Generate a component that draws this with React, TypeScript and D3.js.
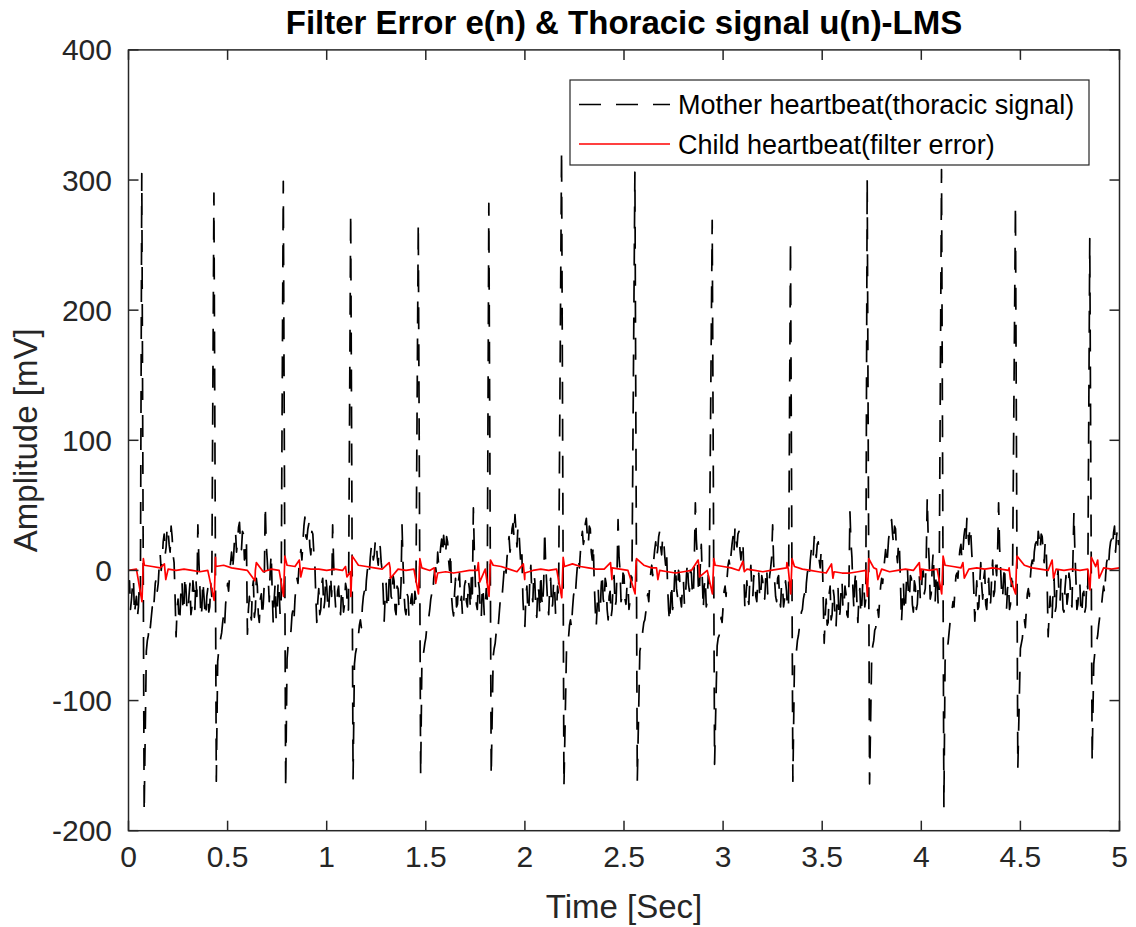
import React from 'react';
import * as d3 from 'd3';

// ---------- tick labels ----------
const xTicks = [0, 0.5, 1, 1.5, 2, 2.5, 3, 3.5, 4, 4.5, 5];
const xTickLabels = ['0', '0.5', '1', '1.5', '2', '2.5', '3', '3.5', '4', '4.5', '5'];
const yTicks = [-200, -100, 0, 100, 200, 300, 400];
const yTickLabels = ['-200', '-100', '0', '100', '200', '300', '400'];

// ---------- mother (thoracic) beats: R-peak time, peak, following trough ----------
const beatTimes = [0.067, 0.431, 0.781, 1.121, 1.462, 1.818, 2.185, 2.555, 2.945, 3.34, 3.727, 4.102, 4.475, 4.85];
const beatPeaks = [305, 290, 299, 275, 267, 282, 323, 306, 269, 254, 301, 308, 281, 255];
const beatTroughs = [-186, -162, -168, -160, -158, -158, -166, -162, -149, -162, -164, -182, -152, -147];

// ---------- thoracic signal between beats, one value every 0.01 s (null = inside a beat) ----------
const thoracic: (number | null)[] = [
  -15, -30, -12, -34, -20, -28, -18, null, null, -62,
  -50, -44, -28, -22, -6, -10, 12, 8, 28, 18,
  30, 14, 26, 6, -51, -22, -34, -8, -26, -14,
  -32, -10, -28, -16, -6, 35, -12, -30, -18, -36,
  -14, -28, -20, null, null, -70, -58, -48, -34, -26,
  -10, -4, 14, 10, 30, 22, 37, 16, 28, 11,
  -49, -20, -38, -8, -30, -12, -40, -18, -26, 50,
  8, -24, 13, -40, -10, -32, -16, -28, null, null,
  -68, -56, -46, -30, -22, -6, 2, 16, 22, 41,
  24, 36, 12, 28, 6, -40, -14, -30, -6, -24,
  -12, -32, -4, 35, -16, -30, -12, -34, -18, -26,
  -14, -30, null, null, -72, -60, -50, -38, -28, -16,
  -8, 4, 10, 20, 12, 24, 4, 18, 0, -39,
  -10, -28, 0, -22, -8, -34, -14, -26, 35, -17,
  -34, -20, -35, -18, -30, -22, null, null, -74, -62,
  -52, -40, -30, -18, -6, 2, 14, 8, 24, 27,
  12, 22, 0, -20, -35, -6, -26, -2, -20, -30,
  -8, -28, -14, -4, 48, -10, -30, -14, -36, -18,
  -28, -22, null, null, -66, -56, -42, -34, -18, -10,
  6, 10, 26, 20, 36, 43, 18, 30, 3, -22,
  -43, -12, -30, 4, -24, -8, -36, -16, -2, -28,
  31, -10, -34, -6, -26, -14, -30, -20, null, null,
  null, -60, -52, -38, -30, -14, -6, 10, 14, 30,
  24, 40, 20, 32, 8, -10, -43, -14, -32, -2,
  -26, -10, -38, -16, -30, -4, -24, 39, 0, -20,
  -4, -26, -10, -24, -8, null, null, null, -62, -54,
  -40, -32, -18, -10, 4, 8, 22, 16, 30, 12,
  24, 4, -12, -40, -10, -26, 4, -20, -4, -28,
  -8, -22, 6, -16, -2, -20, 52, 10, -18, 20,
  -30, -6, -24, -10, null, null, null, -58, -50, -36,
  -28, -12, -6, 8, 12, 26, 33, 18, 30, 8,
  22, -30, -8, -26, 4, -20, -6, -24, -2, -18,
  -8, -22, 2, -14, 2, 35, -8, -24, -4, -28,
  -12, -22, -16, -26, null, null, -72, -62, -50, -40,
  -30, -18, -10, 2, 8, 20, 26, 10, 22, 2,
  14, -56, -22, -40, -12, -34, -20, -43, -14, -32,
  -8, -28, -18, -36, 45, 10, -30, 0, -40, -14,
  -26, -10, -22, null, null, -64, -54, -44, -30, -22,
  -6, 0, 16, 12, 30, 39, 20, 32, 6, 16,
  -40, -10, -28, 2, -22, -6, -32, -12, -26, -4,
  -20, 0, -14, 56, 6, -18, 14, -24, -6, -20,
  null, null, -70, -60, -48, -38, -24, -14, -2, 8,
  20, 14, 32, 40, 20, 28, 4, -39, -8, -28,
  6, -22, 0, -30, -6, -24, 8, -16, -4, 52,
  2, -22, 4, -30, -10, -26, -12, null, null, null,
  -60, -52, -38, -30, -14, -6, 8, 14, 22, 30,
  16, 26, 6, 18, -51, -20, -36, -6, -28, 0,
  -24, -10, -32, -4, -20, -8, -28, 45, -6, -26,
  -10, -34, -16, -28, -14, null, null, -72, -60, -50,
  -36, -26, -12, -4, 10, 16, 24, 29, 14, 32,
  22,
];

// ---------- thoracic signal half-way samples, at i*0.01 + 0.005 s ----------
const thoracicMid: (number | null)[] = [
  -8, -22, -6, -26, -36, -10, null, null, null, -54,
  -40, -36, -32, -10, -16, 4, 0, 22, 12, 34,
  20, 34, 12, -20, -30, -40, -14, -32, -4, -30,
  -20, -34, -8, -30, -20, 8, -36, -8, -30, -20,
  -32, -10, null, null, null, -62, -52, -40, -42, -18,
  -16, 6, 0, 24, 14, 33, 22, 30, 8, 24,
  -30, -34, -14, -36, -6, -34, -22, -36, -10, 20,
  -6, 0, -16, -22, -38, -8, -34, null, null, null,
  -58, -52, -34, -38, -12, -10, 10, 8, 34, 26,
  32, 18, 30, 14, -20, -24, -34, -10, -30, -4,
  -26, -14, -20, 6, -28, -16, -26, -14, -32, -10,
  -32, null, null, null, -64, -56, -42, -44, -20, -22,
  0, -2, 18, 8, 22, 10, 20, 6, -16, -20,
  -30, -6, -20, -4, -30, -12, -30, -10, 6, -30,
  -18, -36, -22, -32, -16, null, null, null, -66, -56,
  -44, -36, -22, -20, 0, -4, 4, 18, 12, 18,
  26, 8, 14, -30, -18, -28, -8, -24, -34, -12,
  -24, -8, -30, -18, 14, -26, -8, -32, -12, -34,
  -14, null, null, null, -60, -48, -44, -24, -20, 0,
  -2, 20, 14, 32, 26, 30, 34, 16, 12, -38,
  -20, -32, -6, -18, -2, -30, -12, -34, -22, -8,
  4, -26, -14, -30, -8, -34, -12, null, null, null,
  null, -54, -42, -44, -20, -18, 4, 2, 24, 20,
  36, 26, 34, 14, 20, -30, -26, -34, -12, -22,
  -6, -30, -20, -36, -10, -28, 0, 10, -24, -2,
  -22, -12, -30, -4, null, null, null, null, -58, -46,
  -38, -22, -24, -2, -4, 16, 10, 26, 18, 26,
  12, 14, -30, -24, -30, -6, -14, 0, -22, -12,
  -26, -4, -10, 0, -18, 10, 24, -12, 4, -6,
  -12, -28, -4, null, null, null, null, -52, -44, -40,
  -16, -20, 4, 2, 20, 14, 24, 28, 16, 20,
  -4, -20, -22, -6, -14, -4, -20, -8, -22, -4,
  -20, -6, -18, -4, 10, 6, -20, -6, -22, -10,
  -28, -8, -30, null, null, null, -64, -54, -44, -32,
  -22, -24, -2, -4, 16, 12, 16, 20, 8, 16,
  -20, -36, -42, -18, -38, -14, -36, -24, -38, -16,
  -30, -12, -34, -10, 22, -14, -8, -24, -20, -34,
  -8, -28, null, null, null, -58, -46, -36, -36, -12,
  -10, 8, 4, 24, 36, 28, 34, 14, 22, -10,
  -24, -32, -8, -18, -4, -26, -8, -30, -10, -22,
  -2, -18, 10, 24, -22, 2, -8, -2, -26, null,
  null, null, -62, -56, -40, -30, -28, -4, -6, 16,
  8, 26, 22, 30, 34, 12, -16, -22, -30, -10,
  -12, -6, -26, -14, -28, -6, -20, 4, 14, 18,
  -16, -6, -20, -14, -30, -6, null, null, null, null,
  -56, -42, -44, -18, -20, 4, 0, 20, 14, 24,
  28, 14, 22, -10, -34, -38, -14, -32, -8, -20,
  -6, -30, -14, -26, -2, -24, 8, 14, -30, -12,
  -30, -18, -32, -8, null, null, null, -64, -54, -42,
  -34, -18, -18, 6, 4, 22, 18, 34, 26, 20,
];

// ---------- filter error (child) baseline, one value every 0.04 s ----------
const redBase = [
  0, 1, 4, 3, 2, 1, 0, 1, 0, -1, 0, 3, 4, 2, 1, 0, 0, -1, 1, 0, 4, 3, 2, 1, 1,
  0, 1, 0, -1, 4, 3, 2, 1, 2, 1, 0, 1, 2, 0, -2, -1, -2, -1, 0, 0, 1, 4, 3, 1, -1,
  -2, 0, 1, 0, 1, 3, 5, 3, 2, 1, 1, 2, 1, 0, 3, 4, 2, 0, -1, -2, -1, 0, 1, 0, 4,
  3, 2, 0, 1, 0, -1, 0, 1, 2, 3, 1, 0, -1, -2, -1, -2, -2, -1, 0, 2, 1, -1, 0, 1, 0,
  1, 0, 1, 4, 3, 2, 1, 2, 1, 2, 1, 0, 3, 4, 2, 1, 0, 1, 0, 1, 0, 1, 3, 2, 1,
  2,
];
// residual spike of the filter error at every mother beat (down, then up)
const redBeatDown = [-24, -23, -20, -20, -18, -20, -21, -18, -18, -18, -20, -18, -18, -15];
const redBeatUp = [9, 10, 11, 11, 9, 8, 10, 9, 9, 9, 9, 11, 11, 10];
// small child-beat spikes in the filter error
const childTimes = [0.181, 0.638, 0.862, 1.095, 1.315, 1.543, 1.765, 1.992, 2.432, 2.664, 2.874, 3.1, 3.322, 3.547, 3.774, 3.99, 4.21, 4.443, 4.66, 4.89];
const childFirst = [5, -8, 8, 3, 6, 2, 6, 5, 6, 2, 8, 7, 6, 5, 1, 6, 6, 2, 8, 8];
const childSecond = [-7, 6, -5, -5, -6, -10, -9, -7, -7, -7, -5, -1, 1, -6, -7, -7, -6, -7, -6, -6];

const legendLabels = ['Mother heartbeat(thoracic signal)', 'Child heartbeat(filter error)'];

const W = 1136;
const H = 927;
const FONT = '"Liberation Sans", Arial, Helvetica, sans-serif';
const AX = '#262626';

export default function App() {
  const x = d3.scaleLinear().domain([0, 5]).range([128.5, 1119.5]);
  const y = d3.scaleLinear().domain([-200, 400]).range([830.7, 49.9]);
  const [x0, x1] = x.range();
  const [yb, yt] = y.range();

  const blackPts: [number, number][] = [];
  thoracic.forEach((v, i) => {
    if (v !== null) blackPts.push([i / 100, v]);
  });
  thoracicMid.forEach((v, i) => {
    if (v !== null) blackPts.push([i / 100 + 0.005, v]);
  });
  beatTimes.forEach((t, k) => {
    blackPts.push([t, beatPeaks[k]]);
    blackPts.push([t + 0.012, beatTroughs[k]]);
  });
  blackPts.sort((a, b) => a[0] - b[0]);

  const redPts: [number, number][] = [];
  redBase.forEach((v, i) => redPts.push([i * 0.04, v]));
  beatTimes.forEach((t, k) => {
    redPts.push([t + 0.001, redBeatDown[k]]);
    redPts.push([t + 0.008, redBeatUp[k]]);
  });
  childTimes.forEach((t, k) => {
    redPts.push([t, childFirst[k]]);
    redPts.push([t + 0.007, childSecond[k]]);
  });
  redPts.sort((a, b) => a[0] - b[0]);

  const line = d3
    .line<[number, number]>()
    .x((d) => x(d[0]))
    .y((d) => y(d[1]));

  const tickLen = 10;
  const lg = { x: 570, y: 80, w: 519, h: 85 };

  return (
    <svg
      width={W}
      height={H}
      viewBox={`0 0 ${W} ${H}`}
      style={{ position: 'absolute', left: 0, top: 0, background: '#fff' }}
      fontFamily={FONT}
    >
      <rect x={0} y={0} width={W} height={H} fill="#fff" />
      <defs>
        <clipPath id="plotclip">
          <rect x={x0} y={yt} width={x1 - x0} height={yb - yt} />
        </clipPath>
      </defs>

      <g clipPath="url(#plotclip)">
        <path d={line(blackPts) || ''} fill="none" stroke="#000" strokeWidth={1.7} strokeDasharray="22 15" strokeLinejoin="round" />
        <path d={line(redPts) || ''} fill="none" stroke="#ff0000" strokeWidth={1.7} strokeLinejoin="round" />
      </g>

      {/* axes box */}
      <rect x={x0} y={yt} width={x1 - x0} height={yb - yt} fill="none" stroke={AX} strokeWidth={1.5} />

      {/* x ticks */}
      {xTicks.map((t, i) => (
        <g key={'xt' + i}>
          <line x1={x(t)} x2={x(t)} y1={yb} y2={yb - tickLen} stroke={AX} strokeWidth={1.5} />
          <line x1={x(t)} x2={x(t)} y1={yt} y2={yt + tickLen} stroke={AX} strokeWidth={1.5} />
          <text x={x(t)} y={867} textAnchor="middle" fontSize={30} fill={AX}>
            {xTickLabels[i]}
          </text>
        </g>
      ))}

      {/* y ticks */}
      {yTicks.map((v, i) => (
        <g key={'yt' + i}>
          <line x1={x0} x2={x0 + tickLen} y1={y(v)} y2={y(v)} stroke={AX} strokeWidth={1.5} />
          <line x1={x1} x2={x1 - tickLen} y1={y(v)} y2={y(v)} stroke={AX} strokeWidth={1.5} />
          <text x={112} y={y(v) + 10.5} textAnchor="end" fontSize={30} fill={AX}>
            {yTickLabels[i]}
          </text>
        </g>
      ))}

      {/* labels */}
      <text x={(x0 + x1) / 2} y={918} textAnchor="middle" fontSize={33} fill={AX}>
        Time [Sec]
      </text>
      <text transform={`translate(37, ${(yt + yb) / 2}) rotate(-90)`} textAnchor="middle" fontSize={33} fill={AX}>
        Amplitude [mV]
      </text>
      <text x={(x0 + x1) / 2} y={34} textAnchor="middle" fontSize={33} fontWeight="bold" fill="#000">
        Filter Error e(n) &amp; Thoracic signal u(n)-LMS
      </text>

      {/* legend */}
      <g>
        <rect x={lg.x} y={lg.y} width={lg.w} height={lg.h} fill="#fff" stroke={AX} strokeWidth={1.2} />
        <line x1={579} x2={670} y1={104.5} y2={104.5} stroke="#000" strokeWidth={1.5} strokeDasharray="22 15" />
        <text x={678} y={114} fontSize={27} fill="#000">
          {legendLabels[0]}
        </text>
        <line x1={579} x2={670} y1={144} y2={144} stroke="#ff0000" strokeWidth={1.5} />
        <text x={678} y={154} fontSize={27} fill="#000">
          {legendLabels[1]}
        </text>
      </g>
    </svg>
  );
}
